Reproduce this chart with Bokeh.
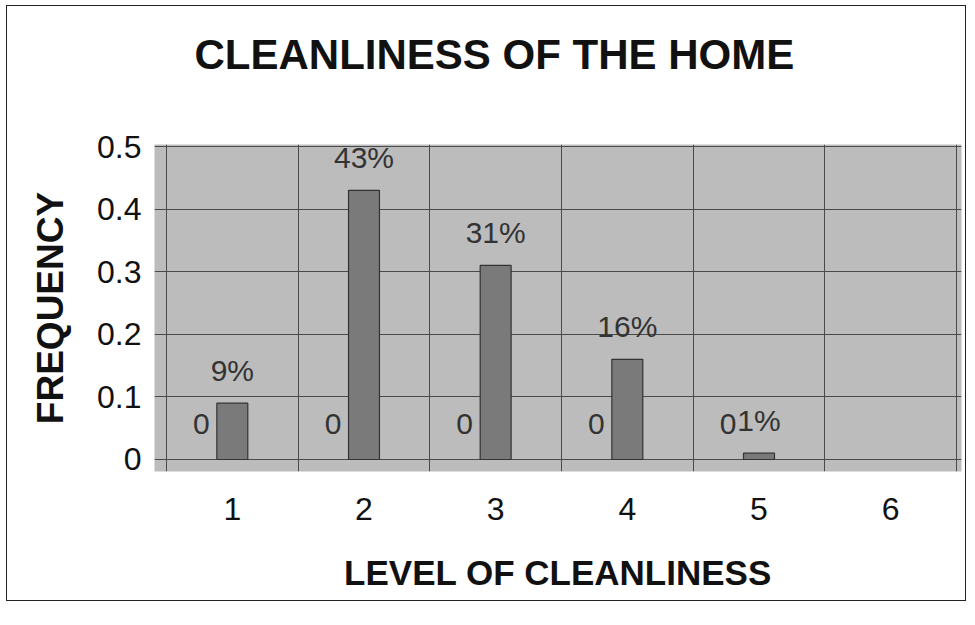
from bokeh.plotting import figure
from bokeh.models import ColumnDataSource, FixedTicker, Range1d, Title
from bokeh.transform import dodge
from bokeh.core.properties import value
from bokeh.embed import file_html
from bokeh.resources import INLINE

# ---- data ----
levels = [1, 2, 3, 4, 5]
frequency = [0.09, 0.43, 0.31, 0.16, 0.01]
zero_series = [0, 0, 0, 0, 0]
pct_labels = ["9%", "43%", "31%", "16%", "1%"]
zero_labels = ["0", "0", "0", "0", "0"]
x_ticks = [1, 2, 3, 4, 5, 6]
y_ticks = [0, 0.1, 0.2, 0.3, 0.4, 0.5]
y_tick_labels = ["0", "0.1", "0.2", "0.3", "0.4", "0.5"]
cat_bounds = [0.5, 1.5, 2.5, 3.5, 4.5, 5.5, 6.5]
chart_title = "CLEANLINESS OF THE HOME"

src = ColumnDataSource(dict(level=levels, freq=frequency, zero=zero_series,
                            pct=pct_labels, zl=zero_labels))

p = figure(width=960, height=596, output_backend="svg", toolbar_location=None,
           x_range=Range1d(0.409, 6.538), y_range=Range1d(-0.0192, 0.5032),
           min_border_left=147, min_border_right=6, min_border_top=138,
           min_border_bottom=131)
p.styles = {"border": "1px solid #222222", "margin-left": "6px", "margin-top": "5px"}

p.background_fill_color = "#bcbcbc"
p.border_fill_color = "white"
p.outline_line_color = None

# title
p.title.text = chart_title
p.title.text_font = "Liberation Sans"
p.title.text_font_style = "bold"
p.title.text_font_size = "42px"
p.title.text_color = "#111111"
p.title.align = "left"
p.title.vertical_align = "bottom"
p.title.offset = 40
p.title.standoff = 38
# empty spacer between title and plot area
p.add_layout(Title(text=" ", text_font_size="10px", standoff=35), "above")

# grids
p.xgrid.ticker = FixedTicker(ticks=cat_bounds)
p.ygrid.ticker = FixedTicker(ticks=y_ticks)
for g in (p.xgrid, p.ygrid):
    g.grid_line_color = "#4a4a4a"
    g.grid_line_width = 1

# axes
p.xaxis.ticker = FixedTicker(ticks=x_ticks)
p.yaxis.ticker = FixedTicker(ticks=y_ticks)
p.yaxis.major_label_overrides = {t: l for t, l in zip(y_ticks, y_tick_labels)}
for ax in (p.xaxis, p.yaxis):
    ax.axis_line_color = None
    ax.major_tick_line_color = None
    ax.minor_tick_line_color = None
    ax.major_tick_out = 0
    ax.major_tick_in = 0
    ax.minor_tick_out = 0
    ax.major_label_text_font = "Liberation Sans"
    ax.major_label_text_font_size = "32px"
    ax.major_label_text_color = "#111111"
    ax.axis_label_text_font = "Liberation Sans"
    ax.axis_label_text_font_style = "bold"
    ax.axis_label_text_color = "#111111"

p.xaxis.axis_label = "LEVEL OF CLEANLINESS"
p.xaxis.axis_label_text_font_size = "35px"
p.xaxis.major_label_standoff = 26
p.xaxis.axis_label_standoff = 30

p.yaxis.axis_label = "FREQUENCY"
p.yaxis.axis_label_text_font_size = "37px"
p.yaxis.major_label_standoff = 13
p.yaxis.axis_label_standoff = 23

# bars
p.vbar(x="level", top="freq", bottom=0, width=0.235, source=src,
       fill_color="#7a7a7a", line_color="#333333", line_width=1.2)

# data labels
p.text(x="level", y="freq", text="pct", source=src, text_align="center",
       text_baseline="middle", y_offset=-33, text_font=value("Liberation Sans"),
       text_font_size="30px", text_color="#333333")
p.text(x=dodge("level", -0.235, range=p.x_range), y="zero", text="zl", source=src,
       text_align="center", text_baseline="middle", y_offset=-35,
       text_font=value("Liberation Sans"), text_font_size="30px",
       text_color="#333333")

open("out.html", "w").write(file_html(p, INLINE))
